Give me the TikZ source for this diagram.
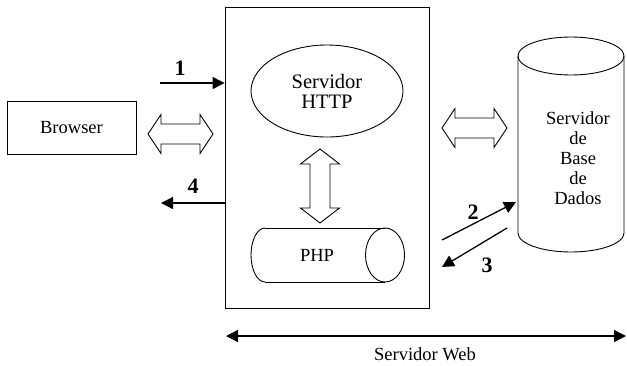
\documentclass[tikz,border=0pt]{standalone}
\usepackage{fontspec}
\setmainfont{Liberation Serif}
\usetikzlibrary{arrows.meta,shapes.geometric}
\begin{document}
\begin{tikzpicture}[x=1pt,y=-1pt,line width=0.9pt,
  txt/.style={font=\fontsize{18.5}{20}\selectfont,align=center,inner sep=0pt},
  bigtxt/.style={font=\fontsize{20.5}{20}\selectfont,align=center,inner sep=0pt},
  num/.style={font=\fontsize{22}{22}\selectfont\bfseries,inner sep=0pt},
  arr/.style={line width=1.3pt,-{Triangle[length=12pt,width=12pt]}},
  dblarr/.style={line width=1.3pt,{Triangle[length=12pt,width=12pt]}-{Triangle[length=12pt,width=12pt]}},
  hollow/.style={draw,fill=white,line width=0.9pt,line join=miter},
  pics/dblh/.style args={#1/#2}{code={
    \draw[hollow] (-#1,0) -- (-#1+#2,-19.5) -- (-#1+#2,-10) -- (#1-#2,-10) -- (#1-#2,-19.5) -- (#1,0)
      -- (#1-#2,19.5) -- (#1-#2,10) -- (-#1+#2,10) -- (-#1+#2,19.5) -- cycle;}}]
\useasboundingbox (0,0) rectangle (627,365);

% Browser
\node[draw,minimum width=129pt,minimum height=53pt,txt] (browser) at (71.5,127.5) {Browser};

% Web server box
\node[draw,minimum width=204pt,minimum height=301pt] (web) at (327,157.5) {};

% HTTP server ellipse
\node[ellipse,draw,minimum width=152pt,minimum height=92pt,bigtxt] (http) at (327,91) {Servidor\\HTTP};

% PHP cylinder
\coordinate (phpTL) at (265,228);
\coordinate (phpTR) at (385,228);
\coordinate (phpBR) at (385,282);
\coordinate (phpBL) at (265,282);
\draw (phpTL) -- (phpTR);
\draw (phpBL) -- (phpBR);
\draw (385,255) ellipse [x radius=19.5pt, y radius=27pt];
\draw (phpTL) arc[start angle=90,end angle=270,x radius=14pt,y radius=27pt];
\node[txt] (php) at (317,255) {PHP};

% DB cylinder
\draw (571,56) ellipse [x radius=53pt, y radius=19pt];
\coordinate (dbL) at (518,56);
\coordinate (dbR) at (624,56);
\draw (dbL) -- (518,233) arc[start angle=180,end angle=360,x radius=53pt,y radius=19pt] -- (dbR);
\node[txt] (db) at (578,158) {Servidor\\de\\Base\\de\\Dados};

% hollow double arrows
\pic at (180.5,134) {dblh={32.5/13}};
\pic[rotate=90] at (320,186) {dblh={37/15}};
\pic at (474.5,128) {dblh={32.5/13}};

% numbered arrows
\coordinate (a1s) at (160,83);
\draw[arr] (a1s) -- (a1s -| web.west);
\node[num] (n1) at (180,68) {1};
\coordinate (a4e) at (161,203);
\draw[arr] (a4e -| web.west) -- (a4e);
\node[num] (n4) at (193,186) {4};
\coordinate (a2s) at (442,240);
\coordinate (a2e) at (516,202);
\draw[arr] (a2s) -- (a2e);
\node[num] (n2) at (473,212) {2};
\coordinate (a3s) at (507,228);
\coordinate (a3e) at (442,267);
\draw[arr] (a3s) -- (a3e);
\node[num] (n3) at (487,265) {3};

% bottom span
\coordinate (spL) at (226,336);
\coordinate (spR) at (626,336);
\draw[dblarr] (spL) -- (spR);
\node[txt] (sw) at (425,354) {Servidor Web};
\end{tikzpicture}
\end{document}
